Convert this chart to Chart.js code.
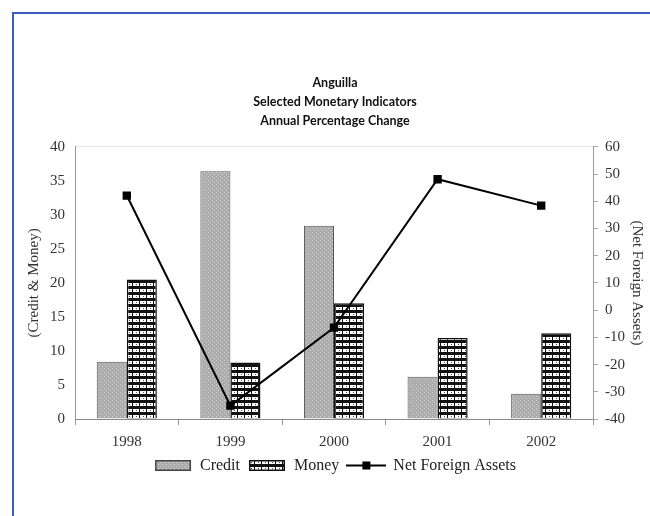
<!DOCTYPE html>
<html lang="en">

<head>
   <meta charset="UTF-8">
   <title>Anguilla - Selected Monetary Indicators</title>
   <script src="https://cdn.jsdelivr.net/npm/chart.js@4.4.0/dist/chart.umd.min.js"></script>
   <style>
      html, body { margin: 0; padding: 0; background: #fff; }
      .wrap { position: relative; width: 650px; height: 516px; overflow: hidden; }
      /* blue frame, only top and left edges show */
      .frame { position: absolute; left: 12px; top: 12px; width: 700px; height: 600px;
               border-left: 2.5px solid #3b5cc0; border-top: 2.5px solid #3b5cc0; }
      canvas { position: absolute; left: 0; top: 0; }
   </style>
</head>

<body>
   <div class="wrap">
      <div class="frame"></div>
      <canvas id="chartMonetary" width="650" height="516"></canvas>
   </div>
   <script>
      var years = ['1998', '1999', '2000', '2001', '2002'];
      var credit = [8.4, 36.4, 28.4, 6.2, 3.7];
      var money = [20.5, 8.3, 17.0, 11.9, 12.6];
      var netForeignAssets = [42.1, -35.1, -6.4, 48.1, 38.4];

      var serif = '"Liberation Serif", "Times New Roman", serif';

      // fill patterns: grey stipple for credit, black/white bricks for money
      function makeTile(w, h, paint) {
         var c = document.createElement('canvas');
         c.width = w; c.height = h;
         paint(c.getContext('2d'));
         return c;
      }
      var creditTile = makeTile(4, 4, function (g) {
         g.fillStyle = '#acacac';
         g.fillRect(0, 0, 4, 4);
         g.fillStyle = '#d4d4d4';
         g.fillRect(0, 0, 1, 1);
         g.fillRect(2, 2, 1, 1);
      });
      var moneyTile = makeTile(7, 6, function (g) {
         g.fillStyle = '#111';
         g.fillRect(0, 0, 7, 6);
         g.fillStyle = '#fff';
         g.fillRect(0, 1, 6, 3);
         g.fillStyle = '#555';
         g.fillRect(3, 2, 1, 1);
      });

      var ctx = document.getElementById('chartMonetary').getContext('2d');
      var creditFill = ctx.createPattern(creditTile, 'repeat');
      var moneyFill = ctx.createPattern(moneyTile, 'repeat');

      // legend keys
      function swatch(tile, border) {
         return makeTile(38, 11, function (g) {
            g.fillStyle = g.createPattern(tile, 'repeat');
            g.fillRect(1, 0, 36, 11);
            g.strokeStyle = border;
            g.lineWidth = 1.5;
            g.strokeRect(1.75, 0.75, 34.5, 9.5);
         });
      }
      var lineKey = makeTile(40, 11, function (g) {
         g.strokeStyle = '#000';
         g.lineWidth = 2;
         g.beginPath();
         g.moveTo(0, 5.5);
         g.lineTo(40, 5.5);
         g.stroke();
         g.fillStyle = '#000';
         g.fillRect(16, 1.5, 8, 8);
      });
      var legendKeys = [swatch(creditTile, '#444'), swatch(moneyTile, '#111'), lineKey];

      var chartMonetary = new Chart(ctx, {
         type: 'bar',
         data: {
            labels: years,
            datasets: [{
               label: 'Credit',
               data: credit,
               yAxisID: 'y',
               backgroundColor: creditFill,
               borderColor: '#555',
               borderWidth: 1,
               categoryPercentage: 0.58,
               barPercentage: 1.0,
               order: 2
            }, {
               label: 'Money',
               data: money,
               yAxisID: 'y',
               backgroundColor: moneyFill,
               borderColor: '#111',
               borderWidth: 1.5,
               categoryPercentage: 0.58,
               barPercentage: 1.0,
               order: 2
            }, {
               type: 'line',
               label: 'Net Foreign Assets',
               data: netForeignAssets,
               yAxisID: 'y1',
               borderColor: '#000',
               borderWidth: 2,
               backgroundColor: '#000',
               pointStyle: 'rect',
               pointRadius: 4.5,
               tension: 0,
               order: 1
            }]
         },
         options: {
            responsive: false,
            animation: false,
            layout: {
               padding: { left: 24, right: 4, top: 60, bottom: 32.5 }
            },
            plugins: {
               title: {
                  display: true,
                  text: ['Anguilla', 'Selected Monetary Indicators', 'Annual Percentage Change'],
                  color: '#111',
                  font: { family: 'Lato', size: 12.5, weight: 'bold', lineHeight: 1.5 },
                  padding: { top: 13.6, bottom: 17 }
               },
               legend: {
                  position: 'bottom',
                  labels: {
                     usePointStyle: true,
                     pointStyleWidth: 38,
                     padding: 8,
                     color: '#222',
                     font: { family: serif, size: 16 },
                     generateLabels: function (chart) {
                        return chart.data.datasets.map(function (ds, i) {
                           return {
                              text: ds.label,
                              datasetIndex: i,
                              pointStyle: legendKeys[i],
                              fontColor: '#222',
                              hidden: false,
                              lineWidth: 0
                           };
                        });
                     }
                  }
               },
               tooltip: { enabled: false }
            },
            scales: {
               x: {
                  grid: { offset: true, drawOnChartArea: false, tickLength: 6, color: '#999' },
                  border: { color: '#888' },
                  ticks: { padding: 8, color: '#333', font: { family: serif, size: 15 } },
                  afterFit: function (s) { s.height = 30.5; }
               },
               y: {
                  position: 'left',
                  min: 0,
                  max: 40,
                  ticks: { stepSize: 5, padding: 10, color: '#333', font: { family: serif, size: 15 } },
                  grid: {
                     drawTicks: false,
                     color: function (c) { return c.tick && c.tick.value === 40 ? '#e8e8e8' : 'rgba(0,0,0,0)'; }
                  },
                  border: { color: '#999' },
                  title: {
                     display: true,
                     text: '(Credit & Money)',
                     color: '#333',
                     font: { family: serif, size: 15 },
                     padding: { top: 1, bottom: 0 }
                  },
                  afterFit: function (s) { s.width = 51; }
               },
               y1: {
                  position: 'right',
                  min: -40,
                  max: 60,
                  ticks: { stepSize: 10, padding: 7, color: '#333', font: { family: serif, size: 15 } },
                  grid: { drawOnChartArea: false, tickLength: 5, color: '#aaa' },
                  border: { color: '#999' },
                  title: {
                     display: true,
                     text: '(Net Foreign Assets)',
                     color: '#333',
                     font: { family: serif, size: 15 },
                     padding: { top: 0, bottom: 0 }
                  },
                  afterFit: function (s) { s.width = 53; }
               }
            }
         }
      });
   </script>
</body>

</html>
